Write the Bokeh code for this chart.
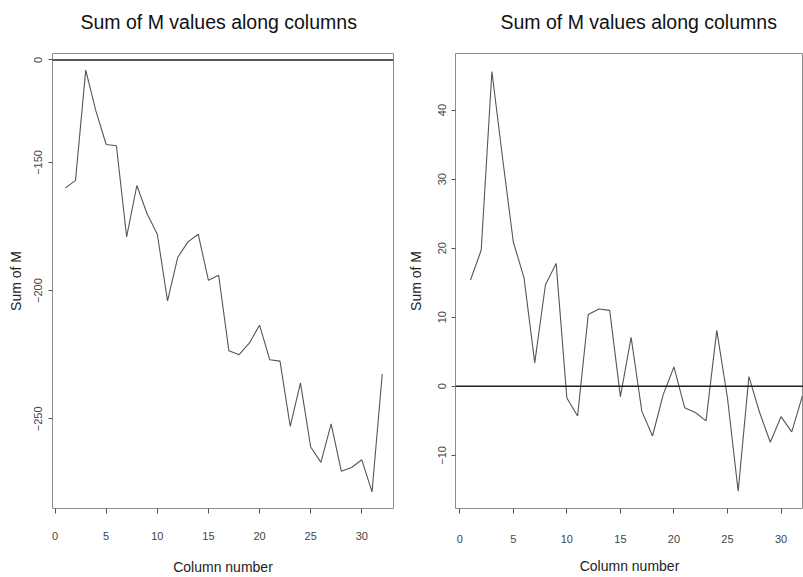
from bokeh.plotting import figure
from bokeh.layouts import row
from bokeh.models import Range1d, FixedTicker, Span, Title
from bokeh.embed import file_html
from bokeh.resources import INLINE

# ---- data ----
columns = list(range(1, 33))
left_sums = [-160, -157, -114, -130, -143, -143.5, -179, -159, -170, -178,
             -204, -187, -181, -178, -196, -194, -223.5, -225, -220.5, -213.5,
             -227, -227.5, -253, -236, -261, -267, -252, -270.5, -269, -266,
             -278.5, -232.5]
right_sums = [15.4, 19.7, 45.6, 33, 20.9, 15.7, 3.4, 14.7, 17.8, -1.7,
              -4.3, 10.4, 11.2, 11.0, -1.5, 7.1, -3.6, -7.2, -1.2, 2.8,
              -3.1, -3.8, -5.0, 8.1, -1.7, -15.2, 1.4, -3.8, -8.1, -4.4,
              -6.6, -1.4]

title_text = "Sum of M values along columns"
x_label = "Column number"
y_label = "Sum of M"
x_ticks = [0, 5, 10, 15, 20, 25, 30]
left_y_ticks = [-250, -200, -150]
left_ref_level = -110          # horizontal reference line drawn near top of left panel
left_ref_label = "0"           # the label printed next to it in the reference
right_y_ticks = [-10, 0, 10, 20, 30, 40]
right_ref_level = 0

FONT = "Liberation Sans"
LINE_COLOR = "#555555"
BOX_COLOR = "#8c8c8c"


def style(p, title_offset, y_lab_standoff, y_axlab_standoff, x_lab_standoff, x_axlab_standoff):
    p.title.text = ""
    # small spacer next to the frame, then the real title further out
    p.add_layout(Title(text=" ", text_font_size="2px", standoff=9), "above")
    p.add_layout(Title(text=title_text, align="left", offset=title_offset, standoff=15,
                       text_font=FONT, text_font_size="19.5px", text_font_style="normal",
                       text_color="#111111"), "above")
    p.grid.visible = False
    p.outline_line_color = BOX_COLOR
    p.outline_line_width = 1
    p.background_fill_color = "white"
    p.border_fill_color = "white"
    for ax in (p.xaxis[0], p.yaxis[0]):
        ax.axis_line_color = None
        ax.major_tick_line_color = "#555555"
        ax.minor_tick_line_color = None
        ax.major_tick_in = 0
        ax.major_label_text_font = FONT
        ax.major_label_text_font_size = "11px"
        ax.major_label_text_color = "#444444"
        ax.axis_label_text_font = FONT
        ax.axis_label_text_font_size = "14px"
        ax.axis_label_text_font_style = "normal"
        ax.axis_label_text_color = "#222222"
    xa = p.xaxis[0]
    xa.axis_label = x_label
    xa.major_tick_out = 5
    xa.major_label_standoff = x_lab_standoff
    xa.axis_label_standoff = x_axlab_standoff
    xa.ticker = FixedTicker(ticks=x_ticks)
    ya = p.yaxis[0]
    ya.axis_label = y_label
    ya.major_tick_out = 4
    ya.major_label_orientation = "vertical"
    ya.major_label_standoff = y_lab_standoff
    ya.axis_label_standoff = y_axlab_standoff


# ---- left panel ----
pl = figure(width=400, height=577, output_backend="svg", toolbar_location=None,
            x_range=Range1d(-0.25, 33.1), y_range=Range1d(-285, -107.5),
            min_border_left=52, min_border_right=7, min_border_top=52, min_border_bottom=69)
style(pl, 28, 6, 8, 18, 16)
pl.yaxis[0].ticker = FixedTicker(ticks=left_y_ticks + [left_ref_level])
pl.yaxis[0].major_label_overrides = {left_ref_level: left_ref_label}
pl.add_layout(Span(location=left_ref_level, dimension="width",
                   line_color="#222222", line_width=1.5))
pl.line(columns, left_sums, line_color=LINE_COLOR, line_width=1.1)

# ---- right panel ----
pr = figure(width=403, height=577, output_backend="svg", toolbar_location=None,
            x_range=Range1d(-0.4, 32.1), y_range=Range1d(-17.7, 48.2),
            min_border_left=55, min_border_right=0, min_border_top=53, min_border_bottom=68)
style(pr, 45, 5, 12, 21, 12)
pr.yaxis[0].ticker = FixedTicker(ticks=right_y_ticks)
pr.add_layout(Span(location=right_ref_level, dimension="width",
                   line_color="#222222", line_width=1.5))
pr.line(columns, right_sums, line_color=LINE_COLOR, line_width=1.1)

layout = row(pl, pr)
open("out.html", "w").write(file_html(layout, INLINE))
